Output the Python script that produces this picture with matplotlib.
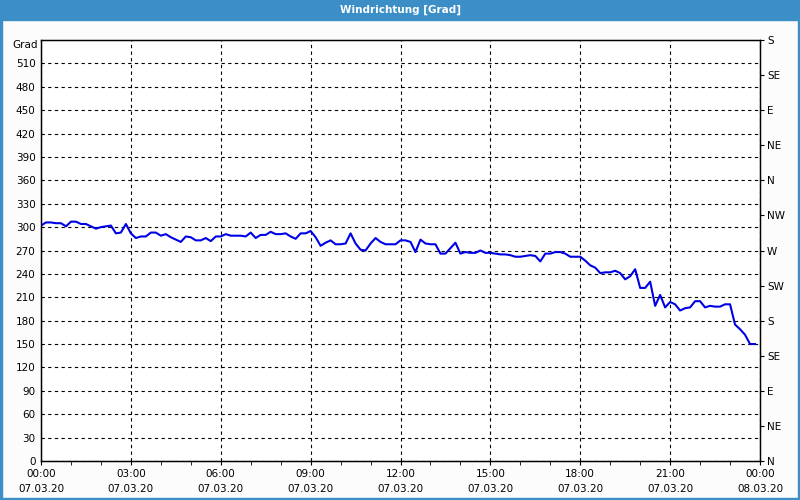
import matplotlib
matplotlib.use('Agg')
import matplotlib.pyplot as plt
import matplotlib.dates as mdates
from matplotlib.patches import Rectangle
import pandas as pd

# Windrichtung, 10-Minuten-Werte vom 07.03.20
times = pd.date_range('2020-03-07 00:00', periods=144, freq='10min')
direction = [
    302, 306, 306, 305, 305, 301, 307, 307, 304, 304, 301, 298,
    300, 301, 302, 292, 293, 304, 292, 286, 288, 288, 293, 293,
    289, 291, 287, 284, 281, 288, 287, 283, 283, 286, 282, 288,
    288, 291, 289, 289, 289, 288, 293, 286, 290, 290, 294, 291,
    291, 292, 288, 285, 292, 292, 295, 287, 276, 280, 283, 278,
    278, 279, 292, 279, 271, 270, 279, 286, 281, 278, 278, 278,
    283, 283, 281, 268, 284, 279, 278, 278, 266, 266, 273, 280,
    266, 268, 267, 267, 270, 267, 267, 266, 265, 265, 264, 262,
    262, 263, 264, 263, 256, 266, 266, 268, 268, 266, 262, 262,
    262, 257, 251, 248, 241, 242, 242, 244, 241, 233, 237, 246,
    222, 222, 230, 199, 213, 197, 204, 201, 193, 196, 197, 205,
    205, 197, 199, 198, 198, 201, 201, 175, 169, 162, 150, 150,
]
left_ticks = list(range(0, 511, 30))
right_ticks = list(range(0, 541, 45))
right_labels = ['N', 'NE', 'E', 'SE', 'S', 'SW', 'W', 'NW', 'N', 'NE', 'E', 'SE', 'S']

plt.rcParams['font.family'] = 'DejaVu Sans'
plt.rcParams['font.size'] = 7.5

fig = plt.figure(figsize=(8, 5), dpi=100, facecolor='#fcfcfc')

# Fensterrahmen und Titelleiste
bar = '#3c8fc6'
fig.patches.append(Rectangle((0, 0.96), 1, 0.04, transform=fig.transFigure, color=bar, zorder=0))
fig.patches.append(Rectangle((0, 0), 0.0025, 1, transform=fig.transFigure, color=bar, zorder=0))
fig.patches.append(Rectangle((0.9975, 0), 0.0025, 1, transform=fig.transFigure, color=bar, zorder=0))
fig.patches.append(Rectangle((0, 0), 1, 0.004, transform=fig.transFigure, color=bar, zorder=0))
fig.text(0.5, 0.98, 'Windrichtung [Grad]', color='white', fontweight='bold',
         ha='center', va='center', fontsize=7.5)

ax = fig.add_axes([0.05125, 0.078, 0.89875, 0.842])
ax.set_facecolor('white')
ax.plot(times, direction, color='#0000e6', lw=1.5, zorder=3)

ax.set_ylim(0, 540)
ax.set_xlim(pd.Timestamp('2020-03-07 00:00'), pd.Timestamp('2020-03-08 00:00'))
ax.set_yticks(left_ticks)
ax.tick_params(axis='y', length=0, pad=4)

ax.xaxis.set_major_locator(mdates.HourLocator(interval=3))
ax.xaxis.set_minor_locator(mdates.HourLocator(interval=1))
ax.xaxis.set_major_formatter(mdates.DateFormatter('%H:%M\n%d.%m.%y'))
ax.tick_params(axis='x', which='both', length=3, direction='out', pad=3)
for lbl in ax.get_xticklabels():
    lbl.set_linespacing(1.6)

ax.grid(True, color='black', linestyle=(0, (3, 3)), lw=0.8)
for s in ax.spines.values():
    s.set_color('black')
    s.set_linewidth(1)

ax.text(-0.004, 540, 'Grad', transform=ax.get_yaxis_transform(),
        ha='right', va='top', fontsize=7.5)

ax2 = ax.twinx()
ax2.set_ylim(0, 540)
ax2.set_yticks(right_ticks)
ax2.set_yticklabels(right_labels)
ax2.tick_params(axis='y', length=3, direction='out', pad=2)

fig.savefig('out.png', dpi=100, facecolor=fig.get_facecolor())
